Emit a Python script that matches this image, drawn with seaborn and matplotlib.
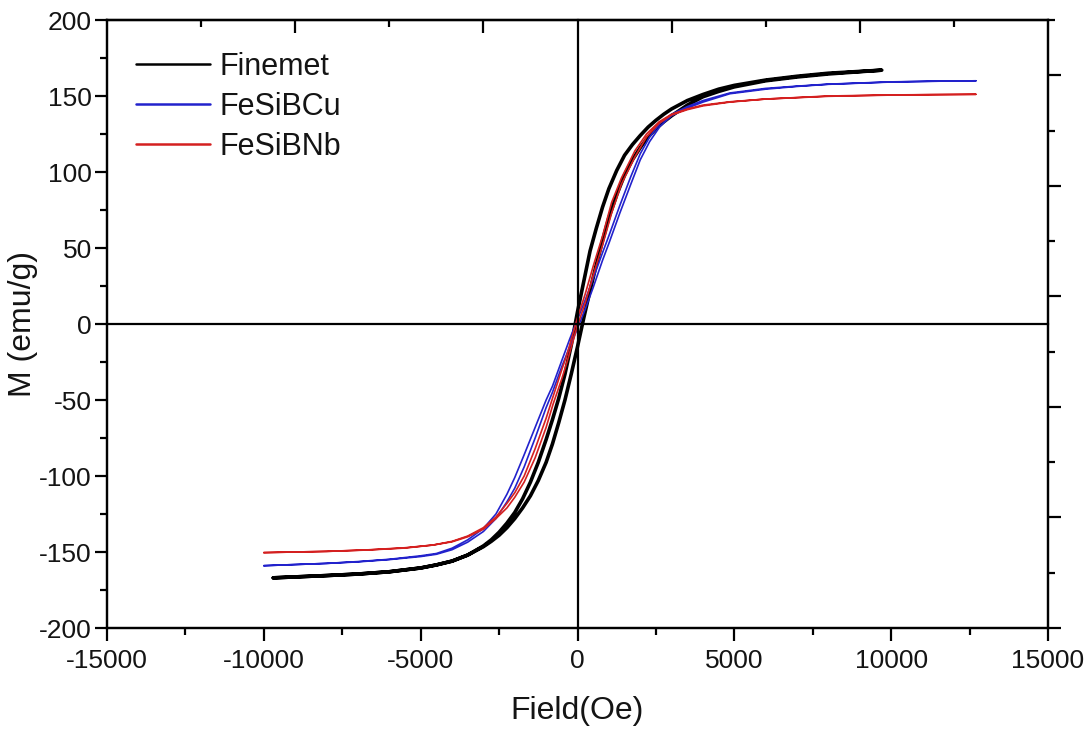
import numpy as np
import pandas as pd
import matplotlib
matplotlib.use("Agg")
import matplotlib.pyplot as plt
import seaborn as sns
from matplotlib.ticker import FixedLocator, NullFormatter

# M-H hysteresis loops (field in Oe, magnetisation in emu/g).
# "up" = increasing-field branch, "down" = decreasing-field branch.
finemet_up_H = [-9700, -8000, -7000, -6000, -5000, -4500, -4000, -3500, -3000, -2750,
                -2500, -2250, -2000, -1750, -1500, -1250, -1000, -800, -600, -400,
                -200, 0, 200, 400, 600, 800, 1000, 1250, 1500, 1750,
                2000, 2250, 2500, 2750, 3000, 3500, 4000, 4500, 5000, 6000,
                7000, 8000, 9700]
finemet_up_M = [-167, -165.5, -164.5, -163, -160.5, -158.5, -156, -152, -146.5, -143,
                -139, -134, -128, -121, -113, -103, -91, -79, -65, -50,
                -33, -15, 4, 22, 39, 55, 70, 85, 98, 108,
                116, 123, 128.5, 133, 137, 144, 149.5, 153, 156, 160,
                162.5, 164.5, 167]

finemet_down_H = [9700, 8000, 7000, 6000, 5000, 4500, 4000, 3500, 3000, 2750,
                  2500, 2250, 2000, 1750, 1500, 1250, 1000, 800, 600, 400,
                  200, 0, -200, -400, -600, -800, -1000, -1250, -1500, -1750,
                  -2000, -2250, -2500, -2750, -3000, -3500, -4000, -4500, -5000, -6000,
                  -7000, -8000, -9700]
finemet_down_M = [167, 165, 163, 160.5, 157, 154.5, 151, 147, 141.5, 138,
                  134, 129.5, 124, 118, 111, 101, 89, 77, 63, 48,
                  28, 8, -14, -33, -49, -63, -76, -91, -104, -115,
                  -124, -131, -137, -142, -146, -152, -156, -158.5, -160.5, -163,
                  -164.5, -165.5, -167]

fesibcu_up_H = [-10000, -8000, -7000, -6000, -5000, -4500, -4000, -3500, -3000, -2600,
                -2250, -2000, -1700, -1350, -1000, -800, -500, -250, 0, 250,
                500, 800, 1000, 1350, 1700, 2000, 2300, 2630, 3000, 3500,
                4000, 4860, 6000, 7000, 8000, 10000, 11300, 12700]
fesibcu_up_M = [-159, -157.5, -156.5, -155, -153, -151.5, -148.5, -143.5, -136.5, -128,
                -117, -108, -94, -75, -55, -45, -28, -15, -3, 10,
                24, 42, 53, 73, 92, 108, 120, 130, 137, 142,
                146, 151.5, 154.5, 156.3, 157.7, 159.2, 159.7, 160]

fesibcu_down_H = [12700, 11300, 10000, 8000, 7000, 6000, 4860, 4000, 3500, 3000,
                  2630, 2300, 2000, 1700, 1350, 1000, 800, 500, 250, 0,
                  -250, -500, -800, -1000, -1350, -1700, -2000, -2250, -2600, -3000,
                  -3500, -4000, -4500, -5000, -6000, -7000, -8000, -10000]
fesibcu_down_M = [160, 159.7, 159.3, 157.8, 156.5, 155, 152, 147, 143, 138,
                  132, 123, 112, 97, 78, 58, 47, 30, 16, 3,
                  -10, -24, -41, -50, -68, -86, -101, -112, -125, -134.5,
                  -142, -147.5, -151, -152.5, -154.8, -156.3, -157.5, -159]

fesibnb_up_H = [-10000, -8000, -6700, -5500, -4600, -4000, -3500, -3000, -2600, -2250,
                -2000, -1700, -1350, -1000, -783, -500, -334, 0, 250, 500,
                800, 1088, 1400, 1832, 2200, 2600, 3000, 3500, 4000, 4860,
                6000, 8000, 10000, 11300, 12700]
fesibnb_up_M = [-150.4, -149.6, -148.7, -147.4, -145.4, -143.3, -140, -135, -128, -121,
                -114, -104, -88, -68, -53, -36, -25, -1, 14, 32,
                52, 73, 92, 110, 123, 132, 137.5, 141, 143.5, 146,
                148, 149.8, 150.6, 150.9, 151.1]

fesibnb_down_H = [12700, 11300, 10000, 8000, 6000, 4860, 4000, 3500, 3000, 2600,
                  2200, 1832, 1400, 1088, 800, 500, 250, 0, -334, -500,
                  -783, -1000, -1350, -1700, -2000, -2250, -2600, -3000, -3500, -4000,
                  -4600, -5500, -6700, -8000, -10000]
fesibnb_down_M = [151.1, 150.9, 150.7, 150, 148, 146.2, 144, 141.5, 138, 133,
                  125, 114, 96, 80, 58, 38, 20, 4, -20, -30,
                  -48, -62, -82, -100, -111, -118, -127, -134, -139.5, -143,
                  -145.4, -147.2, -148.6, -149.6, -150.4]

samples = ["Finemet", "FeSiBCu", "FeSiBNb"]
colors = {"Finemet": "#000000", "FeSiBCu": "#2222cc", "FeSiBNb": "#d42020"}
widths = {"Finemet": 2.6, "FeSiBCu": 1.2, "FeSiBNb": 1.2}

branches = {
    "Finemet": (finemet_up_H, finemet_up_M, finemet_down_H, finemet_down_M),
    "FeSiBCu": (fesibcu_up_H, fesibcu_up_M, fesibcu_down_H, fesibcu_down_M),
    "FeSiBNb": (fesibnb_up_H, fesibnb_up_M, fesibnb_down_H, fesibnb_down_M),
}

frames = []
for name in samples:
    uh, um, dh, dm = branches[name]
    H = list(uh) + list(dh)
    M = list(um) + list(dm)
    frames.append(pd.DataFrame({"sample": name, "order": range(len(H)), "H": H, "M": M}))
df = pd.concat(frames, ignore_index=True)

sns.set_theme(style="white")
plt.rcParams["font.family"] = ["Liberation Sans", "DejaVu Sans"]
plt.rcParams["axes.unicode_minus"] = False

fig = plt.figure(figsize=(10.92, 7.30), dpi=100)
ax = fig.add_axes([107 / 1092, 1 - 628 / 730, 941 / 1092, 608 / 730])

for name in samples:
    sub = df[df["sample"] == name]
    sns.lineplot(data=sub, x="H", y="M", sort=False, estimator=None, ax=ax,
                 color=colors[name], lw=widths[name], label=name)

ax.set_xlim(-15000, 15000)
ax.set_ylim(-200, 200)

for sp in ax.spines.values():
    sp.set_linewidth(1.6)
    sp.set_color("black")

# bottom / left: labelled, outward ticks
ax.set_xticks(np.arange(-15000, 15001, 5000))
ax.xaxis.set_minor_locator(FixedLocator(np.arange(-12500, 15000, 5000)))
ax.set_yticks(np.arange(-200, 201, 50))
ax.yaxis.set_minor_locator(FixedLocator(np.arange(-175, 200, 50)))
ax.tick_params(axis="both", which="major", direction="out", length=9, width=1.6,
               color="black", labelsize=19, labelcolor="#141414",
               bottom=True, left=True, top=False, right=False)
ax.tick_params(axis="both", which="minor", direction="out", length=5, width=1.6,
               color="black", bottom=True, left=True, top=False, right=False)
ax.tick_params(axis="x", which="major", pad=6)
ax.tick_params(axis="y", which="major", pad=2)

ax.set_xlabel("Field(Oe)", fontsize=23, color="#141414", labelpad=17)
ax.set_ylabel("M (emu/g)", fontsize=23, color="#141414", labelpad=1)

# top edge: unlabelled inward ticks
top = ax.secondary_xaxis("top")
top.set_xticks([-9000, -3000, 3000, 9000])
top.xaxis.set_minor_locator(FixedLocator([-12000, -6000, 6000, 12000]))
top.xaxis.set_major_formatter(NullFormatter())
top.tick_params(which="major", direction="in", length=9.5, width=1.6, color="black")
top.tick_params(which="minor", direction="in", length=5, width=1.6, color="black")
top.spines["top"].set_linewidth(1.6)

# right edge: unlabelled outward ticks on its own scale
right = ax.twinx()
right.set_ylim(0, 5.5)
right.set_yticks(np.arange(0, 6, 1))
right.yaxis.set_minor_locator(FixedLocator(np.arange(0.5, 5.6, 1)))
right.yaxis.set_major_formatter(NullFormatter())
right.tick_params(which="major", direction="out", length=9, width=1.6, color="black")
right.tick_params(which="minor", direction="out", length=5, width=1.6, color="black")
right.grid(False)
for sp in right.spines.values():
    sp.set_linewidth(1.6)
    sp.set_color("black")

# axes crossing at the origin
cross = fig.add_axes(ax.get_position(), frameon=True, facecolor="none")
cross.set_xlim(ax.get_xlim())
cross.set_ylim(ax.get_ylim())
for k in ("top", "right"):
    cross.spines[k].set_visible(False)
cross.spines["left"].set_position(("data", 0))
cross.spines["bottom"].set_position(("data", 0))
for k in ("left", "bottom"):
    cross.spines[k].set_linewidth(1.6)
    cross.spines[k].set_color("black")
cross.set_xticks([-9000, -3000, 3000, 9000])
cross.xaxis.set_minor_locator(FixedLocator([-12000, -6000, 6000, 12000]))
cross.set_yticks([-400 / 3, 400 / 3])
cross.yaxis.set_minor_locator(FixedLocator([-200 / 3, 200 / 3]))
cross.xaxis.set_major_formatter(NullFormatter())
cross.yaxis.set_major_formatter(NullFormatter())
cross.tick_params(axis="x", which="major", direction="out", length=9, width=1.6, color="black")
cross.tick_params(axis="x", which="minor", direction="out", length=4.5, width=1.6, color="black")
cross.tick_params(axis="y", which="major", direction="inout", length=18, width=1.6, color="black")
cross.tick_params(axis="y", which="minor", direction="inout", length=9, width=1.6, color="black")
cross.grid(False)

leg = ax.legend(loc="upper left", bbox_to_anchor=(0.031, 0.948), frameon=False,
                fontsize=22, handlelength=2.42, handletextpad=0.3,
                labelspacing=0.33, borderpad=0, borderaxespad=0)
for line in leg.get_lines():
    line.set_linewidth(1.8)
for t in leg.get_texts():
    t.set_color("#141414")

fig.savefig("out.png", dpi=100, facecolor="white")
